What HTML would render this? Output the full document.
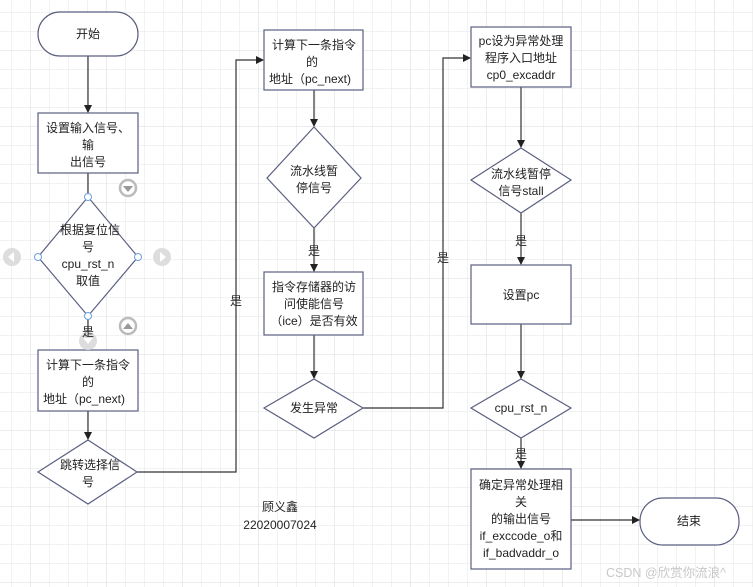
<!DOCTYPE html>
<html><head><meta charset="utf-8"><style>
html,body{margin:0;padding:0;background:#fff;}
svg{display:block;}
text{font-family:"Liberation Sans","Noto Sans CJK SC",sans-serif;font-size:12px;fill:#222;text-anchor:middle;}
</style></head><body>
<svg width="753" height="587" viewBox="0 0 753 587" xmlns="http://www.w3.org/2000/svg">
<defs>
<pattern id="g" x="11" y="12" width="19" height="19" patternUnits="userSpaceOnUse">
<path d="M0 0H19M0 0V19" stroke="#e6e6e6" stroke-width="1" fill="none"/>
</pattern>
<pattern id="G" x="30" y="50" width="76" height="76" patternUnits="userSpaceOnUse">
<path d="M0 0H76M0 0V76" stroke="#dadada" stroke-width="1" fill="none"/>
</pattern>
<marker id="a" markerWidth="8" markerHeight="8" refX="7" refY="4" orient="auto" markerUnits="userSpaceOnUse">
<path d="M0 0L8 4L0 8Z" fill="#222"/>
</marker>
</defs>
<rect width="753" height="587" fill="#fff"/>
<rect width="753" height="587" fill="url(#g)"/>
<rect width="753" height="587" fill="url(#G)"/>

<g stroke="#333" stroke-width="1.2" fill="none">
<line x1="88" y1="56" x2="88" y2="112" marker-end="url(#a)"/>
<line x1="88" y1="173" x2="88" y2="197"/>
<line x1="88" y1="316" x2="88" y2="349"/>
<line x1="88" y1="411" x2="88" y2="439" marker-end="url(#a)"/>
<polyline points="137,472 236,472 236,60 263,60" marker-end="url(#a)"/>
<line x1="314" y1="90" x2="314" y2="126" marker-end="url(#a)"/>
<line x1="314" y1="228" x2="314" y2="271" marker-end="url(#a)"/>
<line x1="314" y1="335" x2="314" y2="378" marker-end="url(#a)"/>
<polyline points="363,408 443,408 443,58 470,58" marker-end="url(#a)"/>
<line x1="521" y1="87" x2="521" y2="147" marker-end="url(#a)"/>
<line x1="521" y1="213" x2="521" y2="264" marker-end="url(#a)"/>
<line x1="521" y1="324" x2="521" y2="378" marker-end="url(#a)"/>
<line x1="521" y1="438" x2="521" y2="468" marker-end="url(#a)"/>
<line x1="571" y1="520" x2="639" y2="520" marker-end="url(#a)"/>
</g>

<g stroke="#5a5f80" stroke-width="1.2" fill="#fff">
<rect x="38" y="12" width="100" height="44" rx="22"/>
<rect x="38" y="113" width="100" height="60"/>
<polygon points="88,197 138,257 88,316 38,257"/>
<rect x="38" y="350" width="100" height="61"/>
<polygon points="88,440 137,472 88,504 38,472"/>
<rect x="264" y="30" width="99" height="60"/>
<polygon points="314,127 361,178 314,228 267,178"/>
<rect x="264" y="272" width="99" height="63"/>
<polygon points="314,379 363,408 314,438 264,408"/>
<rect x="471" y="27" width="100" height="60"/>
<polygon points="521,148 571,180 521,213 471,180"/>
<rect x="471" y="265" width="100" height="59"/>
<polygon points="521,379 571,408 521,438 471,408"/>
<rect x="471" y="469" width="100" height="100"/>
<rect x="640" y="498" width="99" height="47" rx="23"/>
</g>

<!-- selection handles -->
<g stroke="#6aa0e0" stroke-width="1" fill="#fff">
<circle cx="88" cy="197" r="3.5"/><circle cx="138" cy="257" r="3.5"/>
<circle cx="88" cy="316" r="3.5"/><circle cx="38" cy="257" r="3.5"/>
</g>
<g fill="#fff" stroke="#bbb" stroke-width="2.5">
<circle cx="128" cy="188" r="8"/><circle cx="128" cy="326" r="8"/>
</g>
<g fill="#999"><path d="M123 186h10l-5 6z"/><path d="M123 329h10l-5-6z"/></g>
<g fill="#ddd"><circle cx="12" cy="257" r="9"/><circle cx="162" cy="257" r="9"/><circle cx="88" cy="341" r="9"/></g>
<g fill="#fff"><path d="M8 257l6-5v10z"/><path d="M166 257l-6-5v10z"/><path d="M83 338h10l-5 6z"/></g>

<text x="88" y="38">开始</text>
<text x="88" y="132">设置输入信号、</text>
<text x="88" y="149">输</text>
<text x="88" y="166">出信号</text>
<text x="90" y="234">根据复位信</text>
<text x="88" y="251">号</text>
<text x="88" y="268">cpu_rst_n</text>
<text x="88" y="285">取值</text>
<text x="88" y="336">是</text>
<text x="88" y="369">计算下一条指令</text>
<text x="88" y="386">的</text>
<text x="84" y="403">地址（pc_next)</text>
<text x="90" y="469">跳转选择信</text>
<text x="88" y="486">号</text>
<text x="236" y="305">是</text>
<text x="314" y="49">计算下一条指令</text>
<text x="312" y="66">的</text>
<text x="310" y="83">地址（pc_next)</text>
<text x="314" y="175">流水线暂</text>
<text x="314" y="192">停信号</text>
<text x="314" y="255">是</text>
<text x="314" y="291">指令存储器的访</text>
<text x="314" y="308">问使能信号</text>
<text x="314" y="325">（ice）是否有效</text>
<text x="314" y="412">发生异常</text>
<text x="443" y="262">是</text>
<text x="521" y="45">pc设为异常处理</text>
<text x="521" y="62">程序入口地址</text>
<text x="521" y="79">cp0_excaddr</text>
<text x="521" y="178">流水线暂停</text>
<text x="521" y="195">信号stall</text>
<text x="521" y="245">是</text>
<text x="521" y="299">设置pc</text>
<text x="521" y="412">cpu_rst_n</text>
<text x="521" y="458">是</text>
<text x="521" y="489">确定异常处理相</text>
<text x="521" y="506">关</text>
<text x="521" y="523">的输出信号</text>
<text x="521" y="540">if_exccode_o和</text>
<text x="521" y="557">if_badvaddr_o</text>
<text x="689" y="525">结束</text>
<text x="280" y="511">顾义鑫</text>
<text x="280" y="529">22020007024</text>
<text x="666" y="577" style="fill:#c8c8c8;font-size:12.5px">CSDN @欣赏你流浪^</text>
</svg>
</body></html>
